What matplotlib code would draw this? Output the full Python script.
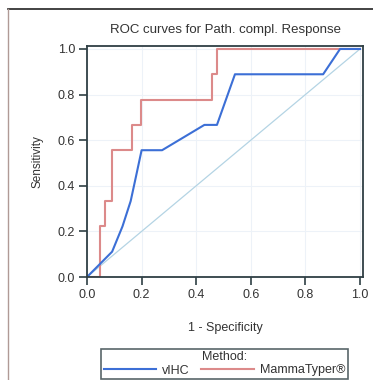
import matplotlib
matplotlib.use("Agg")
import matplotlib.pyplot as plt
from matplotlib.lines import Line2D

# Data
ihc_fpr = [0.0, 0.092, 0.13, 0.16, 0.18, 0.20, 0.275, 0.43, 0.476, 0.542, 0.865, 0.927, 1.0]
ihc_tpr = [0.0, 0.111, 0.222, 0.333, 0.444, 0.556, 0.556, 0.667, 0.667, 0.889, 0.889, 1.0, 1.0]
mt_fpr = [0.0, 0.048, 0.048, 0.066, 0.066, 0.092, 0.092, 0.165, 0.165, 0.198, 0.198, 0.458, 0.458, 0.476, 0.476, 1.0]
mt_tpr = [0.0, 0.0, 0.222, 0.222, 0.333, 0.333, 0.556, 0.556, 0.667, 0.667, 0.778, 0.778, 0.889, 0.889, 1.0, 1.0]
ticks = [0.0, 0.2, 0.4, 0.6, 0.8, 1.0]
tick_labels = ["0.0", "0.2", "0.4", "0.6", "0.8", "1.0"]
series_names = ["vIHC", "MammaTyper®"]

plt.rcParams['font.family'] = ['Liberation Sans', 'DejaVu Sans']

W, H = 373, 380
fig = plt.figure(figsize=(W/100, H/100), dpi=100)
fig.patch.set_facecolor('white')

# figure frame
fig.add_artist(Line2D([8/W, 1.0], [1-9/H, 1-9/H], transform=fig.transFigure, color='#222222', lw=1.2))
fig.add_artist(Line2D([8/W, 8/W], [0, 1-9/H], transform=fig.transFigure, color='#b09a96', lw=1.0))

ax = fig.add_axes([87/W, 1-277/H, (363-87)/W, (277-46)/H])
spine_c = '#2f3f44'
for s in ax.spines.values():
    s.set_color(spine_c)
    s.set_linewidth(1.3)

ax.set_xlim(0, 1.011)
ax.set_ylim(0, 1.013)
ax.set_xticks(ticks)
ax.set_xticklabels(tick_labels)
ax.set_yticks(ticks)
ax.set_yticklabels(tick_labels)
ax.tick_params(direction='out', length=5.5, width=1.2, color=spine_c, labelsize=9, labelcolor='#333333', pad=3)
ax.grid(True, color='#edf2f8', lw=0.8)
ax.set_axisbelow(True)

ax.plot([0, 1], [0, 1], color='#b4d4e4', lw=0.9)
ax.plot(mt_fpr, mt_tpr, color='#dc8a8a', lw=1.5, label=series_names[1])
ax.plot(ihc_fpr, ihc_tpr, color='#3c6fd6', lw=1.5, label=series_names[0])

ax.set_title("ROC curves for Path. compl. Response", fontsize=9.5, color='#333333', pad=9)
ax.set_xlabel("1 - Specificity", fontsize=9, color='#333333', labelpad=15)
ax.set_ylabel("Sensitivity", fontsize=8.5, color='#333333', labelpad=10)

# legend
handles = [Line2D([], [], color='#3c6fd6', lw=1.5), Line2D([], [], color='#dc8a8a', lw=1.5)]
leg = fig.legend(handles, series_names, title="Method:", ncol=2, loc='lower left',
                 bbox_to_anchor=(101/W, 1-379/H, (348-101)/W, (379-343)/H), mode='expand',
                 fontsize=9, title_fontsize=9, frameon=True, fancybox=False,
                 handlelength=4.2, handletextpad=0.5, columnspacing=1.0,
                 borderpad=0.2, labelspacing=0.1, borderaxespad=0)
leg.get_frame().set_edgecolor(spine_c)
leg.get_frame().set_linewidth(1.2)
for t in leg.get_texts():
    t.set_color('#333333')
leg.get_title().set_color('#333333')

fig.savefig("out.png", dpi=100)
